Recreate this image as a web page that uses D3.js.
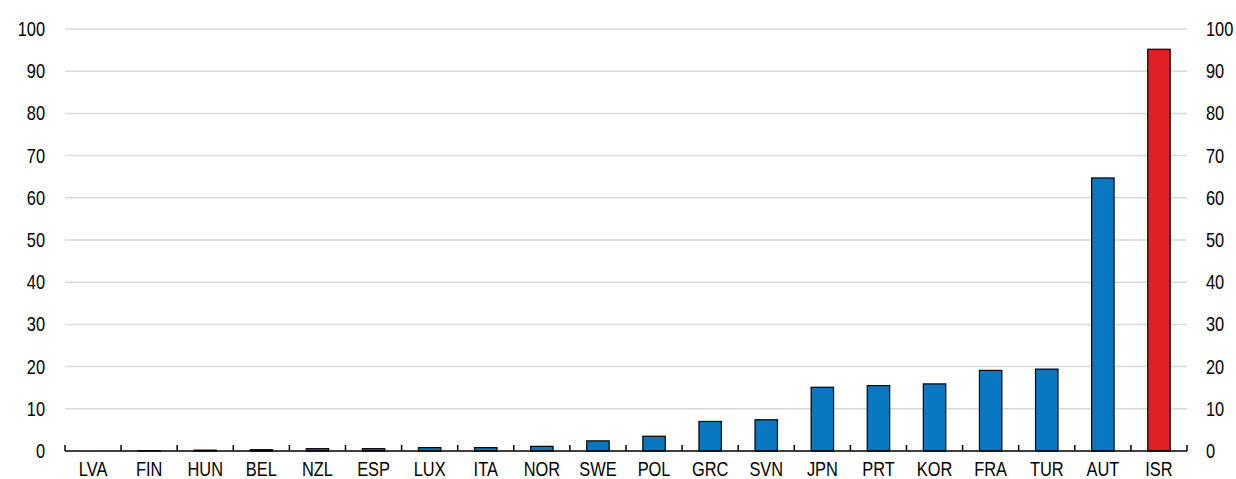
<!DOCTYPE html>
<html>
<head>
<meta charset="utf-8">
<script src="https://cdn.jsdelivr.net/npm/d3@7"></script>
<style>
  html, body { margin: 0; padding: 0; background: #fff; }
  svg { display: block; }
  text { font-family: "Liberation Sans", Arial, sans-serif; fill: #000; }
</style>
</head>
<body>
<svg id="chart" width="1236" height="479"></svg>
<script>
const categories = ["LVA","FIN","HUN","BEL","NZL","ESP","LUX","ITA","NOR","SWE","POL","GRC","SVN","JPN","PRT","KOR","FRA","TUR","AUT","ISR"];
const values = [0, 0.05, 0.2, 0.3, 0.55, 0.55, 0.8, 0.8, 1.1, 2.4, 3.5, 7.0, 7.4, 15.1, 15.5, 15.9, 19.1, 19.4, 64.7, 95.2];
const highlight = ["ISR"];
const yTicks = [0,10,20,30,40,50,60,70,80,90,100];

const W = 1236, H = 479;
const margin = {top: 29, right: 49, bottom: 28, left: 65};
const NARROW = 0.82;
const svg = d3.select("#chart");

const x = d3.scaleBand().domain(categories).range([margin.left, W - margin.right]).padding(0);
const y = d3.scaleLinear().domain([0, 100]).range([H - margin.bottom, margin.top]);

// gridlines
svg.append("g").selectAll("line").data(yTicks.filter(d => d > 0)).join("line")
  .attr("x1", margin.left).attr("x2", W - margin.right)
  .attr("y1", d => y(d)).attr("y2", d => y(d))
  .attr("stroke", "#d9d9d9").attr("stroke-width", 1.5);

// left axis labels
svg.append("g").selectAll("text").data(yTicks).join("text")
  .attr("transform", d => `translate(${margin.left - 20},${y(d)}) scale(${NARROW},1)`)
  .attr("dy", "0.35em")
  .attr("text-anchor", "end").attr("font-size", 20).text(d => d);

// right axis labels
svg.append("g").selectAll("text").data(yTicks).join("text")
  .attr("transform", d => `translate(${W - margin.right + 19},${y(d)}) scale(${NARROW},1)`)
  .attr("dy", "0.35em")
  .attr("text-anchor", "start").attr("font-size", 20).text(d => d);

// bars
const barW = x.bandwidth() * 0.4;
svg.append("g").selectAll("rect").data(categories).join("rect")
  .attr("x", d => x(d) + (x.bandwidth() - barW) / 2)
  .attr("width", barW)
  .attr("y", (d, i) => y(values[i]))
  .attr("height", (d, i) => y(0) - y(values[i]))
  .attr("fill", d => highlight.includes(d) ? "#de2127" : "#0a78c0")
  .attr("stroke", "#000").attr("stroke-width", 1.2);

// x axis line
svg.append("line")
  .attr("x1", margin.left).attr("x2", W - margin.right)
  .attr("y1", y(0)).attr("y2", y(0))
  .attr("stroke", "#000").attr("stroke-width", 1.5);

// x ticks at band boundaries (pointing up)
const bounds = categories.map(c => x(c)).concat([W - margin.right]);
svg.append("g").selectAll("line").data(bounds).join("line")
  .attr("x1", d => d).attr("x2", d => d)
  .attr("y1", y(0)).attr("y2", y(0) - 6)
  .attr("stroke", "#000").attr("stroke-width", 1.5);

// category labels
svg.append("g").selectAll("text").data(categories).join("text")
  .attr("transform", d => `translate(${x(d) + x.bandwidth() / 2},${H - 3}) scale(${NARROW},1)`)
  .attr("text-anchor", "middle").attr("font-size", 20).text(d => d);
</script>
</body>
</html>
